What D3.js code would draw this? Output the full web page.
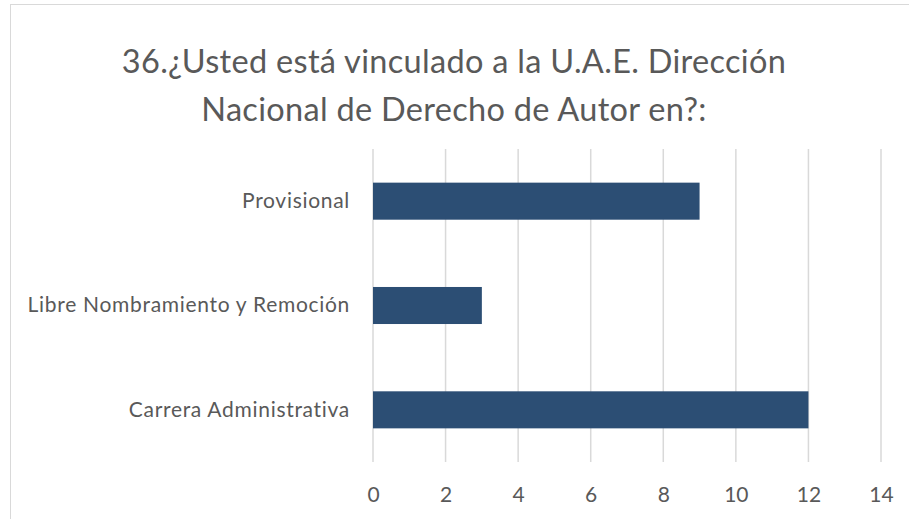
<!DOCTYPE html>
<html>
<head>
<meta charset="utf-8">
<script src="https://cdn.jsdelivr.net/npm/d3@7"></script>
<style>
  body { margin: 0; background: #fff; }
  text { font-family: Lato, "Open Sans", sans-serif; fill: #595959; }
</style>
</head>
<body>
<svg width="909" height="519"></svg>
<script>
// chart data
var categories = ["Provisional", "Libre Nombramiento y Remoción", "Carrera Administrativa"];
var values = [9, 3, 12];
var xTicks = [0, 2, 4, 6, 8, 10, 12, 14];
var titleLines = ["36.¿Usted está vinculado a la U.A.E. Dirección", "Nacional de Derecho de Autor en?:"];

var svg = d3.select("svg"),
    margin = {top: 149, right: 28, bottom: 57, left: 373},
    width = +svg.attr("width") - margin.left - margin.right,
    height = +svg.attr("height") - margin.top - margin.bottom;

// chart frame
svg.append("rect")
    .attr("x", 10.5).attr("y", 4.5)
    .attr("width", 905).attr("height", 520)
    .attr("fill", "none")
    .attr("stroke", "#d9d9d9");

svg.append("g").selectAll("text")
    .data(titleLines)
    .enter().append("text")
    .attr("x", 454)
    .attr("y", function(d, i) { return 73 + i * 48; })
    .attr("text-anchor", "middle")
    .style("font-size", "32.5px")
    .style("letter-spacing", "0.3px")
    .text(function(d) { return d; });

var g = svg.append("g").attr("transform", "translate(" + margin.left + "," + margin.top + ")");

var x = d3.scaleLinear().domain([0, 14]).range([0, width]);
var y = d3.scaleBand().domain(categories).range([0, height]).paddingInner(0.645).paddingOuter(0.3225);

// gridlines
g.append("g").selectAll("line")
    .data(xTicks)
    .enter().append("line")
    .attr("x1", function(d) { return x(d); })
    .attr("x2", function(d) { return x(d); })
    .attr("y1", 0).attr("y2", height)
    .attr("stroke", "#d9d9d9")
    .attr("stroke-width", 1.5);

g.selectAll("rect.bar")
    .data(values)
    .enter().append("rect")
    .attr("class", "bar")
    .attr("x", x(0))
    .attr("y", function(d, i) { return y(categories[i]); })
    .attr("width", function(d) { return x(d) - x(0); })
    .attr("height", y.bandwidth())
    .attr("fill", "#2c4e74");

// x axis labels
var xAxis = g.append("g")
    .attr("transform", "translate(0," + height + ")")
    .call(d3.axisBottom(x).tickValues(xTicks).tickSize(0).tickPadding(25));
xAxis.select(".domain").remove();
xAxis.selectAll("text").style("font-size", "21px").attr("fill", "#595959");

// y axis labels
var yAxis = g.append("g")
    .call(d3.axisLeft(y).tickSize(0).tickPadding(23));
yAxis.select(".domain").remove();
yAxis.selectAll("text").style("font-size", "21px").style("letter-spacing", "0.7px").attr("fill", "#595959");
</script>
</body>
</html>
